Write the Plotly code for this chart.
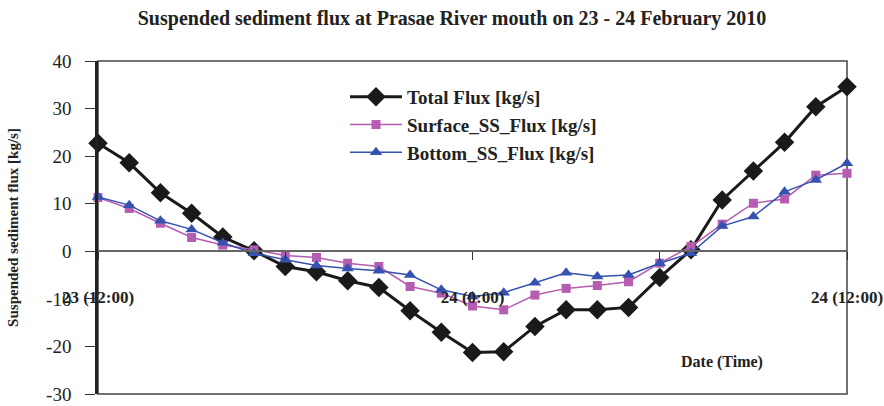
import plotly.graph_objects as go

# hourly samples, 23 Feb 12:00 -> 24 Feb 12:00
hours = list(range(25))
tick_pos = [0, 12, 24]
tick_text = ["23 (12:00)", "24 (0:00)", "24 (12:00)"]
y_ticks = [-30, -20, -10, 0, 10, 20, 30, 40]
y_tick_text = ["-30", "-20", "-10", "0", "10", "20", "30", "40"]

total_flux = [22.7, 18.6, 12.3, 8.0, 3.0, 0.1, -3.2, -4.3, -6.2, -7.6, -12.5, -17.0,
              -21.3, -21.1, -15.8, -12.3, -12.3, -11.8, -5.5, 0.3, 10.8, 16.9, 22.9, 30.4, 34.6]
surface_flux = [11.3, 9.0, 5.9, 2.9, 1.3, 0.3, -0.9, -1.3, -2.5, -3.2, -7.4, -8.8,
                -11.5, -12.3, -9.2, -7.8, -7.2, -6.4, -2.5, 1.0, 5.7, 10.1, 11.0, 16.0, 16.4]
bottom_flux = [11.4, 9.7, 6.4, 4.6, 1.8, -0.4, -1.8, -3.0, -3.6, -4.1, -5.0, -8.1,
               -9.5, -8.7, -6.6, -4.5, -5.3, -5.0, -2.5, -0.4, 5.3, 7.3, 12.5, 15.0, 18.5]

serif = "Liberation Serif"

fig = go.Figure()
fig.add_trace(go.Scatter(x=hours, y=total_flux, name="Total Flux [kg/s]", mode="lines+markers",
                         line=dict(color="#1a1a1a", width=3),
                         marker=dict(symbol="diamond", size=15, color="#1a1a1a"),
                         cliponaxis=False))
fig.add_trace(go.Scatter(x=hours, y=surface_flux, name="Surface_SS_Flux [kg/s]", mode="lines+markers",
                         line=dict(color="#b55db0", width=1.5),
                         marker=dict(symbol="square", size=9, color="#b55db0"),
                         cliponaxis=False))
fig.add_trace(go.Scatter(x=hours, y=bottom_flux, name="Bottom_SS_Flux [kg/s]", mode="lines+markers",
                         line=dict(color="#3552ae", width=1.5),
                         marker=dict(symbol="triangle-up", size=11, color="#3552ae"),
                         cliponaxis=False))

# frame around plot area
fig.add_shape(type="rect", xref="paper", yref="paper", x0=0, x1=1, y0=0, y1=1,
              line=dict(color="#444444", width=1.5), layer="below")

fig.add_annotation(text="<b>Date (Time)</b>", xref="paper", yref="paper",
                   x=(722 - 98) / 749, y=(394 - 362) / 333, showarrow=False,
                   xanchor="center", yanchor="middle",
                   font=dict(family=serif, size=16, color="#222222"))

fig.update_layout(
    width=884, height=406,
    margin=dict(l=98, r=37, t=61, b=12),
    paper_bgcolor="white", plot_bgcolor="white",
    title=dict(text="<b>Suspended sediment flux at Prasae River mouth on 23 - 24 February 2010</b>",
               x=452 / 884, xanchor="center", y=1 - 18 / 406, yanchor="middle",
               font=dict(family=serif, size=20, color="#222222")),
    legend=dict(x=(345 - 98) / 749, y=(394 - 78) / 333, xanchor="left", yanchor="top",
                font=dict(family=serif, size=19, color="#222222", weight="bold"),
                bgcolor="rgba(0,0,0,0)", tracegroupgap=0, itemwidth=52),
    showlegend=True,
)

fig.update_xaxes(range=[0, 24], anchor="free", position=30 / 70, automargin=False,
                 tickvals=tick_pos, ticktext=tick_text,
                 ticks="outside", ticklen=8, tickcolor="#333333",
                 minor=dict(dtick=6, ticks="outside", ticklen=8, tickcolor="#333333"),
                 showline=True, linecolor="#666666", linewidth=1.5,
                 showgrid=False, zeroline=False, ticklabelstandoff=23,
                 tickfont=dict(family=serif, size=17, color="#222222", weight="bold"))
fig.update_yaxes(range=[-30, 40], tickvals=y_ticks, ticktext=y_tick_text, automargin=False,
                 showgrid=False, zeroline=False,
                 showline=True, linecolor="#222222", linewidth=2.5,
                 ticks="outside", ticklen=10, tickcolor="#333333", ticklabelstandoff=10,
                 tickfont=dict(family=serif, size=19, color="#222222"),
                 title=dict(text="<b>Suspended sediment flux [kg/s]</b>", standoff=24,
                            font=dict(family=serif, size=15, color="#222222")))

# drop the browser's default body margin so the figure fills the window exactly
fig.write_html("out.html", config={"displayModeBar": False},
               post_script="document.body.style.margin='0';")
